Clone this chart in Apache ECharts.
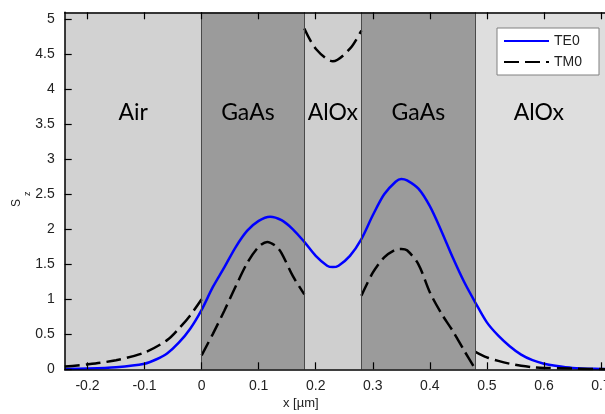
<!DOCTYPE html>
<html>
<head>
<meta charset="utf-8">
<script src="https://cdn.jsdelivr.net/npm/echarts@6/dist/echarts.min.js"></script>
<style>html,body{margin:0;padding:0;background:#fff}#c{width:605px;height:414px}</style>
</head>
<body>
<div id="c"></div>
<script>
// ---- data ----
const xTicks = [-0.2, -0.1, 0, 0.1, 0.2, 0.3, 0.4, 0.5, 0.6, 0.7];
const yTicks = [0, 0.5, 1, 1.5, 2, 2.5, 3, 3.5, 4, 4.5, 5];

const regionNames = ['Air', 'GaAs', 'AlOx', 'GaAs', 'AlOx'];
const regionStart = [-0.24, 0, 0.18, 0.28, 0.48];
const regionEnd = [0, 0.18, 0.28, 0.48, 0.72];
const boundaries = [0, 0.18, 0.28, 0.48];

const teX = [-0.24, -0.2, -0.15, -0.1, -0.08, -0.06, -0.04, -0.02, 0, 0.02, 0.04, 0.06, 0.08, 0.1, 0.12, 0.14, 0.16, 0.18, 0.2, 0.22, 0.23, 0.24, 0.26, 0.28, 0.3, 0.32, 0.34, 0.35, 0.36, 0.38, 0.4, 0.42, 0.44, 0.46, 0.48, 0.5, 0.52, 0.54, 0.56, 0.58, 0.6, 0.62, 0.65, 0.7, 0.72];
const teY = [0.005, 0.01, 0.03, 0.08, 0.14, 0.23, 0.38, 0.58, 0.85, 1.18, 1.46, 1.75, 1.98, 2.12, 2.18, 2.13, 2.0, 1.82, 1.62, 1.48, 1.46, 1.48, 1.62, 1.86, 2.2, 2.5, 2.68, 2.72, 2.7, 2.58, 2.33, 1.98, 1.6, 1.25, 0.95, 0.67, 0.48, 0.33, 0.21, 0.13, 0.08, 0.05, 0.02, 0.005, 0.003];

const tmAirX = [-0.24, -0.2, -0.15, -0.1, -0.06, -0.04, -0.02, 0];
const tmAirY = [0.04, 0.07, 0.13, 0.24, 0.42, 0.58, 0.77, 1.0];
const tmGaAs1X = [0, 0.02, 0.04, 0.06, 0.08, 0.1, 0.115, 0.13, 0.14, 0.16, 0.18];
const tmGaAs1Y = [0.2, 0.51, 0.84, 1.19, 1.52, 1.75, 1.82, 1.76, 1.66, 1.33, 1.07];
const tmAlOx1X = [0.18, 0.2, 0.23, 0.26, 0.28];
const tmAlOx1Y = [4.87, 4.58, 4.4, 4.58, 4.84];
const tmGaAs2X = [0.28, 0.3, 0.32, 0.34, 0.35, 0.36, 0.38, 0.4, 0.42, 0.44, 0.46, 0.48];
const tmGaAs2Y = [1.05, 1.38, 1.6, 1.71, 1.72, 1.7, 1.5, 1.1, 0.8, 0.55, 0.27, 0.0];
const tmAlOx2X = [0.48, 0.5, 0.52, 0.54, 0.56, 0.58, 0.6, 0.65, 0.72];
const tmAlOx2Y = [0.25, 0.17, 0.12, 0.08, 0.05, 0.03, 0.02, 0.01, 0.0];

// ---- build ----
const zip = (xs, ys) => xs.map((x, i) => [x, ys[i]]);
const teData = zip(teX, teY);
const tmSegs = [[tmAirX, tmAirY], [tmGaAs1X, tmGaAs1Y], [tmAlOx1X, tmAlOx1Y], [tmGaAs2X, tmGaAs2Y], [tmAlOx2X, tmAlOx2Y]];
const tmData = [];
tmSegs.forEach((s, i) => {
  if (i > 0) tmData.push([s[0][0], '-']);
  zip(s[0], s[1]).forEach(p => tmData.push(p));
});

const bandColors = ['#d2d2d2', '#9b9b9b', '#cfcfcf', '#9b9b9b', '#dedede'];
const labelOffsets = [[0, 0], [-5, 0], [0, 0], [0, 0], [-5, 0]];
const areas = regionNames.map((n, i) => [
  { xAxis: regionStart[i], yAxis: 0, name: n, itemStyle: { color: bandColors[i] },
    label: { offset: labelOffsets[i] } },
  { xAxis: regionEnd[i], yAxis: 5.1 }
]);

const tickStyle = { show: true, inside: true, length: 7, lineStyle: { color: '#000', width: 1.2 } };
const axLine = { show: true, onZero: false, lineStyle: { color: '#000', width: 1.5 } };
const lblFont = { fontFamily: 'Liberation Sans, Arial, sans-serif', fontSize: 14, color: '#222' };
const font = 'Liberation Sans, Arial, sans-serif';

const chart = echarts.init(document.getElementById('c'), null, { renderer: 'canvas' });
chart.setOption({
  animation: false,
  backgroundColor: '#fff',
  grid: { left: 64.7, top: 12.3, right: -7.4, bottom: 44.7, containLabel: false, outerBoundsMode: 'none' },
  xAxis: [
    { type: 'value', min: -0.24, max: 0.72, position: 'bottom', z: 10, axisLine: axLine,
      axisTick: Object.assign({ customValues: xTicks }, tickStyle),
      axisLabel: Object.assign({ customValues: xTicks, margin: 10, formatter: v => String(+v.toFixed(2)) }, lblFont),
      splitLine: { show: false } },
    { type: 'value', min: -0.24, max: 0.72, position: 'top', z: 10, axisLine: axLine,
      axisTick: Object.assign({ customValues: xTicks }, tickStyle),
      axisLabel: { show: false }, splitLine: { show: false } }
  ],
  yAxis: [
    { type: 'value', min: 0, max: 5.1, position: 'left', z: 10, axisLine: axLine,
      axisTick: Object.assign({ customValues: yTicks }, tickStyle),
      axisLabel: Object.assign({ customValues: yTicks, margin: 10, formatter: v => String(+v.toFixed(1)) }, lblFont),
      splitLine: { show: false } }
  ],
  legend: {
    data: ['TE0', 'TM0'], orient: 'vertical', left: 497, top: 28,
    itemWidth: 45, itemHeight: 14, itemGap: 7,
    padding: [6, 17, 6, 6],
    itemStyle: { opacity: 0 },
    backgroundColor: '#fff', borderColor: '#808080', borderWidth: 1, borderRadius: 0,
    textStyle: { fontFamily: font, fontSize: 14, color: '#222' }
  },
  series: [
    { name: 'bands', type: 'line', data: [], z: 0, silent: true,
      markArea: { silent: true, data: areas,
        label: { show: true, position: ['50%', 100], align: 'center', verticalAlign: 'middle',
          fontFamily: 'Lato, Open Sans, sans-serif', fontSize: 23, color: '#000' } },
      markLine: { silent: true, symbol: 'none', label: { show: false },
        lineStyle: { color: '#4a4a4a', width: 1, type: 'solid' },
        data: boundaries.map(b => ({ xAxis: b })) } },
    { name: 'TE0', type: 'line', data: teData, z: 3, symbol: 'none', smooth: 0.3,
      lineStyle: { color: '#0000ff', width: 2.5 }, itemStyle: { color: '#0000ff' } },
    { name: 'TM0', type: 'line', data: tmData, z: 4, symbol: 'none', smooth: 0.3, connectNulls: false,
      lineStyle: { color: '#000', width: 2.5, type: [15, 6] }, itemStyle: { color: '#000' } }
  ],
  graphic: [
    { type: 'text', left: 283, top: 397,
      style: { text: 'x [µm]', fontFamily: font, fontSize: 13, fill: '#222' } },
    { type: 'text', x: 11, y: 207, rotation: Math.PI / 2,
      style: { text: 'S', fontFamily: font, fontSize: 12, fill: '#222' } },
    { type: 'text', x: 23, y: 196, rotation: Math.PI / 2,
      style: { text: 'z', fontFamily: font, fontSize: 9, fill: '#222' } }
  ]
});
</script>
</body>
</html>
